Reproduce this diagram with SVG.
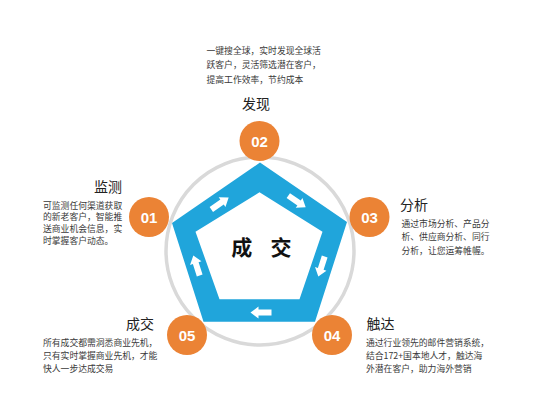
<svg xmlns="http://www.w3.org/2000/svg" width="533" height="409" viewBox="0 0 533 409">
<style>
.body{font-family:"Noto Sans CJK SC","Noto Sans",sans-serif;font-size:8.8px;fill:#3a3a3a}
.title{font-family:"Noto Sans CJK SC","Noto Sans",sans-serif;font-size:14px;fill:#222}
.num{font-family:"Liberation Sans",Arial,sans-serif;font-size:15px;font-weight:bold;fill:#fff;text-anchor:middle}
.center{font-family:"Noto Sans CJK SC",sans-serif;font-size:21px;font-weight:bold;fill:#111;text-anchor:middle}
.dot{fill:#EB8335}
.arr{fill:#fff}
</style>
<defs>
<path id="arrow" d="M-10.5,-3 L2.5,-3 L2.5,-6 L10.5,0 L2.5,6 L2.5,3 L-10.5,3 Z"/>
</defs>
<rect width="533" height="409" fill="#fff"/>
<g id="ring">
<circle cx="260" cy="251" r="94" fill="none" stroke="#D9D9D9" stroke-width="3.5"/>
</g>
<g id="pentagon">
<path d="M260,162.5 L347,222 L315,321.7 L203.5,321.7 L172,223 Z M259.5,192.3 L195.5,231.7 L219.5,299.3 L299.5,299.3 L322.5,231.7 Z" fill="#20A5DB" fill-rule="evenodd"/>
<text class="center" x="241.7" y="254.5">成</text>
<text class="center" x="281" y="254.5">交</text>
</g>
<g id="connectors" class="arr">
<use href="#arrow" transform="translate(220,203.5) rotate(-34.3)"/>
<use href="#arrow" transform="translate(297,201.5) rotate(34)"/>
<use href="#arrow" transform="translate(321.5,266.5) rotate(107.7)"/>
<use href="#arrow" transform="translate(261,312.5) rotate(180)"/>
<use href="#arrow" transform="translate(196.5,265.5) rotate(-107.7)"/>
</g>
<g id="node02">
<circle class="dot" cx="259.5" cy="141" r="20"/>
<text class="num" x="259.5" y="146.5">02</text>
<text class="title" x="256" y="109" text-anchor="middle">发现</text>
<text class="body" x="206.5" y="54">一键搜全球，实时发现全球活</text>
<text class="body" x="206.5" y="68">跃客户，灵活筛选潜在客户，</text>
<text class="body" x="206.5" y="82.5">提高工作效率，节约成本</text>
</g>
<g id="node01">
<circle class="dot" cx="149" cy="217" r="20"/>
<text class="num" x="149" y="222.5">01</text>
<text class="title" x="122" y="191.5" text-anchor="end">监测</text>
<text class="body" x="43" y="208.5">可监测任何渠道获取</text>
<text class="body" x="43" y="220">的新老客户，智能推</text>
<text class="body" x="43" y="231.5">送商业机会信息，实</text>
<text class="body" x="43" y="243.5">时掌握客户动态。</text>
</g>
<g id="node03">
<circle class="dot" cx="369.5" cy="217" r="20"/>
<text class="num" x="369.5" y="222.5">03</text>
<text class="title" x="400" y="210">分析</text>
<text class="body" x="401.5" y="226.5">通过市场分析、产品分</text>
<text class="body" x="401.5" y="240">析、供应商分析、同行</text>
<text class="body" x="401.5" y="254">分析，让您运筹帷幄。</text>
</g>
<g id="node04">
<circle class="dot" cx="332" cy="335" r="20"/>
<text class="num" x="332" y="340.5">04</text>
<text class="title" x="366.5" y="329">触达</text>
<text class="body" x="366" y="345.5">通过行业领先的邮件营销系统，</text>
<text class="body" x="366" y="358.5">结合172+国本地人才，触达海</text>
<text class="body" x="366" y="371.5">外潜在客户，助力海外营销</text>
</g>
<g id="node05">
<circle class="dot" cx="187" cy="335" r="20"/>
<text class="num" x="187" y="340.5">05</text>
<text class="title" x="154" y="329" text-anchor="end">成交</text>
<text class="body" x="43" y="345.5">所有成交都需洞悉商业先机，</text>
<text class="body" x="43" y="358.5">只有实时掌握商业先机，才能</text>
<text class="body" x="43" y="371.5">快人一步达成交易</text>
</g>
</svg>
